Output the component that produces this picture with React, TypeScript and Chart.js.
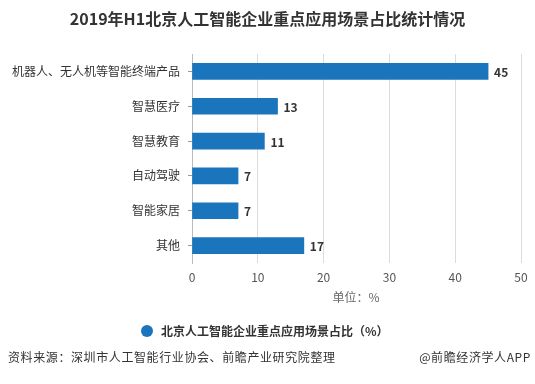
import React, { useEffect, useRef } from "react";
import { Chart, registerables } from "chart.js";

Chart.register(...registerables);

const categories = ["机器人、无人机等智能终端产品", "智慧医疗", "智慧教育", "自动驾驶", "智能家居", "其他"];
const values = [45, 13, 11, 7, 7, 17];
const seriesName = "北京人工智能企业重点应用场景占比（%）";
const xTicks = { min: 0, max: 50, step: 10 };
const titleText = "2019年H1北京人工智能企业重点应用场景占比统计情况";
const unitText = "单位：%";
const sourceText = "资料来源：深圳市人工智能行业协会、前瞻产业研究院整理";
const brandText = "@前瞻经济学人APP";

const FONT = '"Noto Sans CJK SC", "Noto Sans", sans-serif';
const BAR = "#1b75bc";

const valueLabels = {
  id: "valueLabels",
  afterDatasetsDraw(chart: any) {
    const ctx = chart.ctx;
    const meta = chart.getDatasetMeta(0);
    ctx.save();
    ctx.font = `bold 12px ${FONT}`;
    ctx.fillStyle = "#333";
    ctx.textAlign = "left";
    ctx.textBaseline = "middle";
    meta.data.forEach((el: any, i: number) => {
      ctx.fillText(String(values[i]), el.x + 6, el.y + 1);
    });
    ctx.restore();
  },
};

export default function App() {
  const ref = useRef<HTMLCanvasElement>(null);
  useEffect(() => {
    const chart = new Chart(ref.current!, {
      type: "bar",
      data: {
        labels: categories,
        datasets: [
          {
            label: seriesName,
            data: values,
            backgroundColor: BAR,
            barThickness: 16,
          },
        ],
      },
      plugins: [valueLabels],
      options: {
        indexAxis: "y",
        animation: false,
        responsive: false,
        maintainAspectRatio: false,
        layout: { padding: { top: 54, right: 14, left: 0, bottom: 0 } },
        plugins: { legend: { display: false }, title: { display: false }, tooltip: { enabled: false } },
        scales: {
          x: {
            min: xTicks.min,
            max: xTicks.max,
            afterFit: (s: any) => {
              s.height = 121;
            },
            ticks: { stepSize: xTicks.step, color: "#555", font: { size: 12, family: FONT }, padding: 7 },
            grid: { color: "#dcdcdc", drawTicks: false },
            border: { display: false },
          },
          y: {
            afterFit: (s: any) => {
              s.width = 192;
            },
            ticks: { color: "#333", font: { size: 12, family: FONT }, padding: 8 },
            grid: { drawOnChartArea: false, offset: false, tickLength: 4, color: "#999" },
            border: { display: true, color: "#bbb" },
          },
        },
      },
    });
    return () => chart.destroy();
  }, []);

  return (
    <div style={{ position: "absolute", left: 0, top: 0, width: 535, height: 384, background: "#fff", fontFamily: FONT, overflow: "hidden" }}>
      <canvas ref={ref} width={535} height={384} style={{ position: "absolute", left: 0, top: 0, width: 535, height: 384 }} />
      <div style={{ position: "absolute", left: 0, top: 7, width: 535, textAlign: "center", fontWeight: "bold", fontSize: 16, color: "#333", lineHeight: "22px" }}>
        {titleText}
      </div>
      <div style={{ position: "absolute", left: 256, top: 288, width: 200, textAlign: "center", fontSize: 12, color: "#666", lineHeight: "18px" }}>
        {unitText}
      </div>
      <div style={{ position: "absolute", left: 141, top: 322, display: "flex", alignItems: "center", fontSize: 12, fontWeight: "bold", color: "#333", lineHeight: "18px" }}>
        <span style={{ display: "inline-block", width: 12, height: 12, borderRadius: 6, background: BAR, marginRight: 8 }} />
        {seriesName}
      </div>
      <div style={{ position: "absolute", left: 8, top: 348, fontSize: 12, color: "#333", lineHeight: "18px", letterSpacing: "0.6px" }}>{sourceText}</div>
      <div style={{ position: "absolute", right: 4, top: 348, fontSize: 12, color: "#333", lineHeight: "18px", letterSpacing: "0.6px" }}>{brandText}</div>
    </div>
  );
}
